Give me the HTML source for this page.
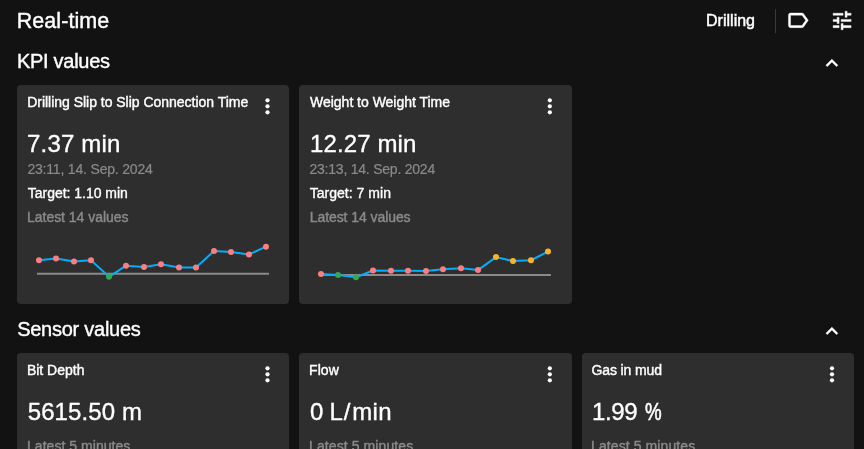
<!DOCTYPE html>
<html>
<head>
<meta charset="utf-8">
<style>
*{box-sizing:border-box;margin:0;padding:0}
html,body{width:864px;height:449px;overflow:hidden;background:#121212;font-family:"Liberation Sans",sans-serif;color:#fff}
.t{position:absolute;white-space:nowrap;line-height:1}
.card{position:absolute;width:272px;background:#2e2e2e;border-radius:4px}
.h0{font-size:21.5px;-webkit-text-stroke:0.4px #fff}
.h1{font-size:20px;-webkit-text-stroke:0.4px #fff}
.dr{font-size:16px;-webkit-text-stroke:0.45px #fff}
.ct{font-size:14px;color:#fff;-webkit-text-stroke:0.4px #fff}
.val{font-size:24px;color:#fff;-webkit-text-stroke:0.35px #fff}
.g{font-size:14px;color:#8a8a8a;-webkit-text-stroke:0.2px #8a8a8a}
.gm{font-size:14px;color:#8a8a8a;-webkit-text-stroke:0.4px #8a8a8a}
.w{font-size:14px;color:#fff;-webkit-text-stroke:0.35px #fff}
svg{position:absolute;overflow:visible}
</style>
</head>
<body>
<div id="wrap" style="position:absolute;left:0;top:0;width:864px;height:449px;will-change:transform">
<div class="t h0" id="rt" style="left:16.78px;top:10.50px;letter-spacing:0.054px;">Real-time</div>
<div class="t h1" id="kpi" style="left:16.95px;top:50.77px;letter-spacing:-0.278px;">KPI values</div>
<div class="t h1" id="sens" style="left:17.14px;top:318.87px;letter-spacing:-0.255px;">Sensor values</div>
<div class="t dr" id="drill" style="left:706.07px;top:13.30px;letter-spacing:0.006px;">Drilling</div>
<div style="position:absolute;left:775px;top:9px;width:1px;height:24px;background:#3a3a3a"></div>

<div class="card" style="left:17px;top:85px;height:219px"></div>
<div class="card" style="left:299px;top:85px;width:273px;height:219px"></div>
<div class="card" style="left:17px;top:353px;height:120px"></div>
<div class="card" style="left:299px;top:353px;width:273px;height:120px"></div>
<div class="card" style="left:582px;top:353px;height:120px"></div>


<div class="t ct" id="c1t" style="left:27.20px;top:95.15px;letter-spacing:-0.021px;">Drilling Slip to Slip Connection Time</div>
<div class="t val" id="c1v" style="left:27.00px;top:131.90px;letter-spacing:0.196px;">7.37 min</div>
<div class="t g" id="c1d" style="left:27.38px;top:162.35px;letter-spacing:-0.183px;">23:11, 14. Sep. 2024</div>
<div class="t w" id="c1g" style="left:27.72px;top:186.15px;letter-spacing:-0.014px;">Target: 1.10 min</div>
<div class="t gm" id="c1l" style="left:27.00px;top:210.35px;letter-spacing:-0.027px;">Latest 14 values</div>

<div class="t ct" id="c2t" style="left:310.04px;top:95.15px;letter-spacing:-0.017px;">Weight to Weight Time</div>
<div class="t val" id="c2v" style="left:309.97px;top:131.90px;letter-spacing:0.125px;">12.27 min</div>
<div class="t g" id="c2d" style="left:309.49px;top:162.35px;letter-spacing:-0.226px;">23:13, 14. Sep. 2024</div>
<div class="t w" id="c2g" style="left:309.72px;top:186.15px;letter-spacing:0.026px;">Target: 7 min</div>
<div class="t gm" id="c2l" style="left:309.74px;top:210.35px;letter-spacing:-0.072px;">Latest 14 values</div>

<div class="t ct" id="s1t" style="left:26.90px;top:363.30px;letter-spacing:-0.001px;">Bit Depth</div>
<div class="t val" id="s1v" style="left:27.69px;top:399.90px;letter-spacing:0.100px;">5615.50 m</div>
<div class="t gm" id="s1l" style="left:27.00px;top:438.95px;letter-spacing:0.041px;">Latest 5 minutes</div>
<div class="t ct" id="s2t" style="left:309.12px;top:363.30px;letter-spacing:0.047px;">Flow</div>
<div class="t val" id="s2v" style="left:310.06px;top:399.90px;letter-spacing:0.821px;word-spacing:-2.2px">0 L/</div>
<div class="t val" id="s2m" style="left:352.26px;top:399.90px;letter-spacing:0.314px;">min</div>
<div class="t gm" id="s2l" style="left:309.00px;top:438.95px;letter-spacing:0.096px;">Latest 5 minutes</div>
<div class="t ct" id="s3t" style="left:591.61px;top:363.30px;letter-spacing:-0.138px;">Gas in mud</div>
<div class="t val" id="s3v" style="left:591.97px;top:399.90px;letter-spacing:-0.397px;">1.99</div>
<div class="t val" id="s3p" style="left:644.9px;top:399.9px;transform:scaleX(0.78);transform-origin:0 0;-webkit-text-stroke:0.6px #fff">%</div>
<div class="t gm" id="s3l" style="left:591.00px;top:438.95px;letter-spacing:0.096px;">Latest 5 minutes</div>

<svg style="left:0;top:0" width="864" height="449" viewBox="0 0 864 449">
<g transform="translate(785.35 7.85) scale(1.0417 1.0417)"><path fill="#fff" stroke="#fff" stroke-width="0.4" d="M17.63 5.84C17.27 5.33 16.67 5 16 5L5 5.01C3.9 5.01 3 5.9 3 7v10c0 1.1.9 1.990 2 1.990L16 19c.67 0 1.27-.33 1.630-.84L22 12l-4.370-6.160zM16 17H5V7h11l3.550 5L16 17z"/></g>
<g transform="translate(830.1 8.05) scale(1.0000 1.0333)"><path fill="#fff" stroke="#fff" stroke-width="0.4" d="M3 17v2h6v-2H3zM3 5v2h10V5H3zm10 16v-2h8v-2h-8v-2h-2v6h2zM7 9v2H3v2h4v2h2V9H7zm14 4v-2H11v2h10zm-6-4h2V7h4V5h-4V3h-2v6z"/></g>
<g transform="translate(819.9 51.2) scale(1.0000 1.0000)"><path fill="#fff" stroke="#fff" stroke-width="0.5" d="M7.41 15.41L12 10.830l4.590 4.580L18 14l-6-6-6 6z"/></g>
<g transform="translate(819.9 319.2) scale(1.0000 1.0000)"><path fill="#fff" stroke="#fff" stroke-width="0.5" d="M7.41 15.41L12 10.830l4.590 4.580L18 14l-6-6-6 6z"/></g>
<g transform="translate(255.5 94.36)" fill="#fff"><circle cx="12" cy="6" r="2.1"/><circle cx="12" cy="12" r="2.1"/><circle cx="12" cy="18" r="2.1"/></g>
<g transform="translate(537.84 94.36)" fill="#fff"><circle cx="12" cy="6" r="2.1"/><circle cx="12" cy="12" r="2.1"/><circle cx="12" cy="18" r="2.1"/></g>
<g transform="translate(255.5 362.36)" fill="#fff"><circle cx="12" cy="6" r="2.1"/><circle cx="12" cy="12" r="2.1"/><circle cx="12" cy="18" r="2.1"/></g>
<g transform="translate(537.84 362.36)" fill="#fff"><circle cx="12" cy="6" r="2.1"/><circle cx="12" cy="12" r="2.1"/><circle cx="12" cy="18" r="2.1"/></g>
<g transform="translate(820.0 362.36)" fill="#fff"><circle cx="12" cy="6" r="2.1"/><circle cx="12" cy="12" r="2.1"/><circle cx="12" cy="18" r="2.1"/></g>
<line x1="37" y1="273.85" x2="269" y2="273.85" stroke="#8a8a8a" stroke-width="2"/><polyline fill="none" stroke="#04adf8" stroke-width="2" stroke-linejoin="round" points="39,260.25 56,258.5 74,261.5 91,260.25 109,276.8 126,265.7 144,266.95 161,264.2 179,267.4 196,267.4 214,251.0 231,252.0 249,254.4 266,246.7"/><circle cx="39" cy="260.25" r="3" fill="#fd7e80"/><circle cx="56" cy="258.5" r="3" fill="#fd7e80"/><circle cx="74" cy="261.5" r="3" fill="#fd7e80"/><circle cx="91" cy="260.25" r="3" fill="#fd7e80"/><circle cx="109" cy="276.8" r="3" fill="#34a853"/><circle cx="126" cy="265.7" r="3" fill="#fd7e80"/><circle cx="144" cy="266.95" r="3" fill="#fd7e80"/><circle cx="161" cy="264.2" r="3" fill="#fd7e80"/><circle cx="179" cy="267.4" r="3" fill="#fd7e80"/><circle cx="196" cy="267.4" r="3" fill="#fd7e80"/><circle cx="214" cy="251.0" r="3" fill="#fd7e80"/><circle cx="231" cy="252.0" r="3" fill="#fd7e80"/><circle cx="249" cy="254.4" r="3" fill="#fd7e80"/><circle cx="266" cy="246.7" r="3" fill="#fd7e80"/>
<line x1="319" y1="275" x2="551" y2="275" stroke="#8a8a8a" stroke-width="2"/><polyline fill="none" stroke="#04adf8" stroke-width="2" stroke-linejoin="round" points="321,273.9 338,275.1 356,277.2 373,270.5 391,270.7 408,270.7 426,270.9 443,269.2 461,268.15 478,270.1 496,257.1 513,261.05 531,260.25 548,251.6"/><circle cx="321" cy="273.9" r="3" fill="#fd7e80"/><circle cx="338" cy="275.1" r="3" fill="#34a853"/><circle cx="356" cy="277.2" r="3" fill="#34a853"/><circle cx="373" cy="270.5" r="3" fill="#fd7e80"/><circle cx="391" cy="270.7" r="3" fill="#fd7e80"/><circle cx="408" cy="270.7" r="3" fill="#fd7e80"/><circle cx="426" cy="270.9" r="3" fill="#fd7e80"/><circle cx="443" cy="269.2" r="3" fill="#fd7e80"/><circle cx="461" cy="268.15" r="3" fill="#fd7e80"/><circle cx="478" cy="270.1" r="3" fill="#fd7e80"/><circle cx="496" cy="257.1" r="3" fill="#fdb22c"/><circle cx="513" cy="261.05" r="3" fill="#fdb22c"/><circle cx="531" cy="260.25" r="3" fill="#fdb22c"/><circle cx="548" cy="251.6" r="3" fill="#fdb22c"/>
</svg>
</div>
</body>
</html>
